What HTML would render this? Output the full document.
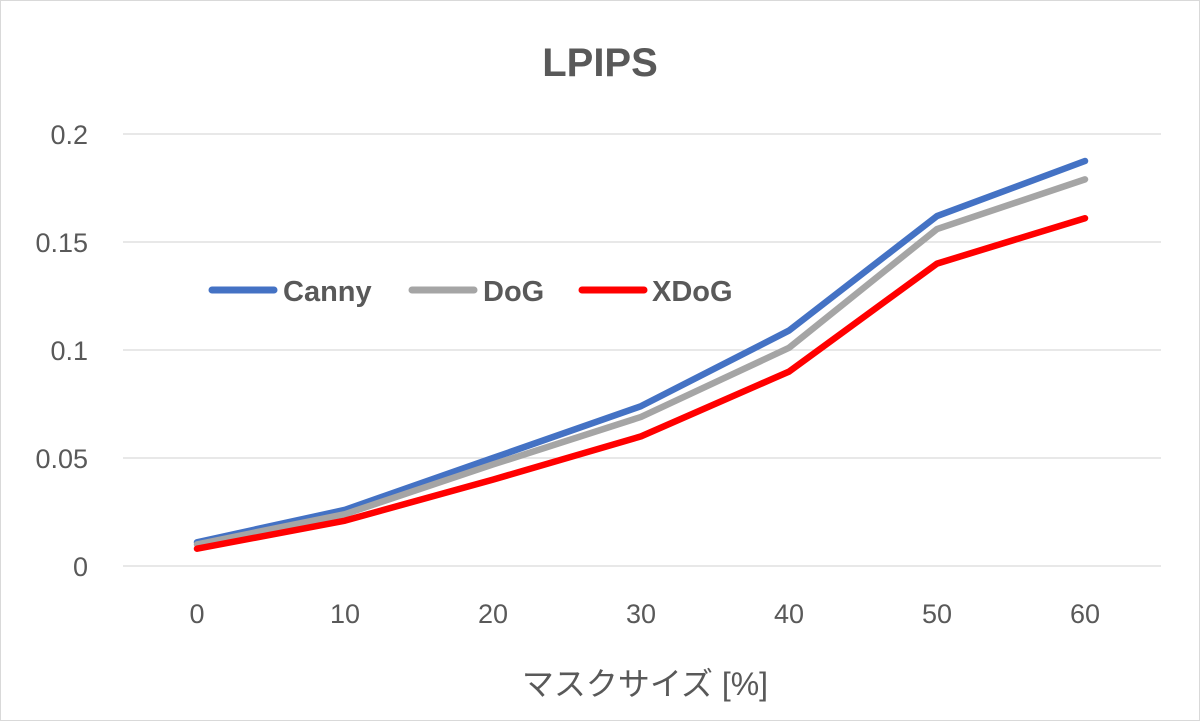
<!DOCTYPE html>
<html><head><meta charset="utf-8"><style>
body{margin:0;background:#fff}
svg{display:block;font-family:"Liberation Sans","Noto Sans CJK JP",sans-serif}
</style></head><body>
<svg width="1200" height="721">
<rect x="0.5" y="0.5" width="1199" height="720" fill="#fff" stroke="#d9d9d9"/>
<text x="600" y="76" text-anchor="middle" font-size="40" font-weight="bold" fill="#595959">LPIPS</text>
<g id="grid"></g><g id="xt"></g><g id="yt"></g><g id="series"></g>
<text x="645" y="695" text-anchor="middle" font-size="32" fill="#595959">マスクサイズ [%]</text>
<g>
<line x1="212" y1="290" x2="274" y2="290" stroke="#4472c4" stroke-width="7" stroke-linecap="round"/>
<text x="283" y="301" font-size="29" font-weight="bold" fill="#595959">Canny</text>
<line x1="412" y1="290" x2="474" y2="290" stroke="#a5a5a5" stroke-width="7" stroke-linecap="round"/>
<text x="483" y="301" font-size="29" font-weight="bold" fill="#595959">DoG</text>
<line x1="582" y1="290" x2="644" y2="290" stroke="#ff0000" stroke-width="7" stroke-linecap="round"/>
<text x="652" y="301" font-size="29" font-weight="bold" fill="#595959">XDoG</text>
</g>
</svg>
<script>
const categories=[0,10,20,30,40,50,60];
const canny=[0.011,0.026,0.050,0.074,0.109,0.162,0.1875];
const dog=[0.010,0.024,0.047,0.069,0.101,0.156,0.179];
const xdog=[0.008,0.021,0.040,0.060,0.090,0.140,0.161];
const yTicks=[0,0.05,0.1,0.15,0.2];
const yTickLabels=["0","0.05","0.1","0.15","0.2"];
const NS="http://www.w3.org/2000/svg";
const X=i=>197+i*148;
const Y=v=>566-v*2160;
function mk(t,a,p){const e=document.createElementNS(NS,t);for(const k in a)e.setAttribute(k,a[k]);p.appendChild(e);return e;}
const grid=document.getElementById('grid'),yt=document.getElementById('yt'),xt=document.getElementById('xt'),ser=document.getElementById('series');
yTicks.forEach((v,i)=>{
 const l=mk('line',{x1:123,x2:1161,y1:Y(v),y2:Y(v),stroke:'#d9d9d9','stroke-width':1.3},grid);
 
 
 const t=mk('text',{x:88,y:Y(v)+10,'text-anchor':'end','font-size':27,fill:'#595959'},yt);
 t.textContent=yTickLabels[i];
 
 
});
categories.forEach((c,i)=>{
 const t=mk('text',{x:X(i),y:623,'text-anchor':'middle','font-size':27,fill:'#595959'},xt);
 t.textContent=c;
 
 
});
[[canny,'#4472c4','canny-line'],[dog,'#a5a5a5','dog-line'],[xdog,'#ff0000','xdog-line']].forEach(([d,c,n])=>{
 const p=mk('polyline',{points:d.map((v,i)=>X(i)+','+Y(v)).join(' '),fill:'none',stroke:c,'stroke-width':6.5,'stroke-linejoin':'round','stroke-linecap':'round'},ser);
 
 
});
</script>
</body></html>
